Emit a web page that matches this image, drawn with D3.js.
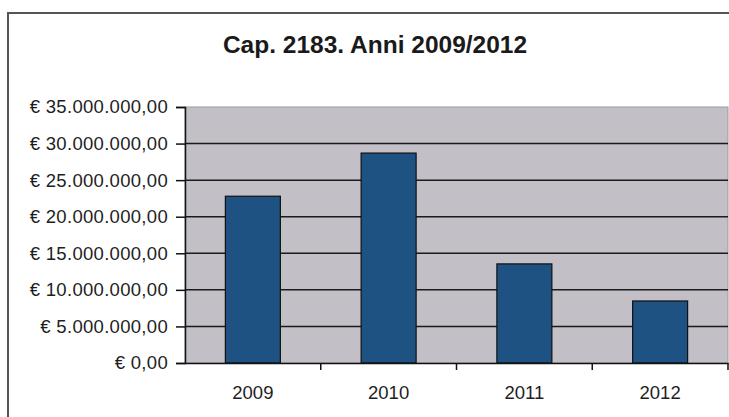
<!DOCTYPE html>
<html>
<head>
<meta charset="utf-8">
<script src="https://cdn.jsdelivr.net/npm/d3@7"></script>
<style>
  html, body { margin: 0; padding: 0; background: #fff; }
  svg { display: block; }
</style>
</head>
<body>
<div id="chart"></div>
<script>
const titleText = "Cap. 2183. Anni 2009/2012";
const categories = ["2009", "2010", "2011", "2012"];
const values = [22800000, 28700000, 13550000, 8480000];
const yTicks = [0, 5000000, 10000000, 15000000, 20000000, 25000000, 30000000, 35000000];

const W = 729, H = 417;
const margin = { left: 185, right: 1, top: 107, bottom: 54 };

const svg = d3.select("#chart").append("svg")
  .attr("width", W).attr("height", H);

// outer frame
svg.append("path")
  .attr("d", `M8,${H + 5} L8,13 L${W + 5},13`)
  .attr("fill", "none").attr("stroke", "#555").attr("stroke-width", 2);

const x = d3.scaleBand().domain(categories)
  .range([margin.left, W - margin.right])
  .paddingInner(0.595).paddingOuter(0.2975);
const xb = d3.scaleBand().domain(categories)
  .range([margin.left, W - margin.right]).padding(0);
const y = d3.scaleLinear().domain([0, 35000000])
  .range([H - margin.bottom, margin.top]);

// plot background
svg.append("rect")
  .attr("x", margin.left).attr("y", y(35000000))
  .attr("width", W - margin.right - margin.left)
  .attr("height", y(0) - y(35000000))
  .attr("fill", "#c2bfc6").attr("stroke", "#9d9aa1").attr("stroke-width", 1);

// gridlines
svg.append("g").selectAll("line")
  .data(yTicks.filter(d => d > 0 && d < 35000000))
  .join("line")
  .attr("x1", margin.left).attr("x2", W - margin.right)
  .attr("y1", d => y(d)).attr("y2", d => y(d))
  .attr("stroke", "#1a1a1a").attr("stroke-width", 1.5);

// bars
svg.append("g").selectAll("rect")
  .data(categories)
  .join("rect")
  .attr("x", d => x(d))
  .attr("width", x.bandwidth())
  .attr("y", (d, i) => y(values[i]))
  .attr("height", (d, i) => y(0) - y(values[i]))
  .attr("fill", "#1e5282")
  .attr("stroke", "#111").attr("stroke-width", 1.2);

const fmt = d => "€ " + d3.format(",.2f")(d).replace(/,/g, "#").replace(/\./g, ",").replace(/#/g, ".");

// y axis
const yAxis = svg.append("g")
  .attr("transform", `translate(${margin.left},0)`)
  .call(d3.axisLeft(y).tickValues(yTicks).tickFormat(fmt).tickSize(9).tickPadding(8));
yAxis.select(".domain").attr("stroke", "#111").attr("stroke-width", 1.5);
yAxis.selectAll(".tick line").attr("stroke", "#111").attr("stroke-width", 1.5);
yAxis.selectAll("text")
  .attr("font-family", "'Liberation Sans', Arial, sans-serif")
  .attr("font-size", 18.5).attr("letter-spacing", 0.3).attr("fill", "#1e1e1e");

// x axis
const xAxis = svg.append("g")
  .attr("transform", `translate(0,${y(0)})`)
  .call(d3.axisBottom(xb).tickSize(0).tickPadding(23));
xAxis.select(".domain").attr("stroke", "#111").attr("stroke-width", 1.5);
xAxis.selectAll("text")
  .attr("font-family", "'Liberation Sans', Arial, sans-serif")
  .attr("font-size", 18.5).attr("fill", "#1e1e1e");
// category separator ticks
xAxis.append("g").selectAll("line")
  .data(categories.slice(1).concat(["end"]))
  .join("line")
  .attr("x1", d => d === "end" ? W - margin.right : xb(d))
  .attr("x2", d => d === "end" ? W - margin.right : xb(d))
  .attr("y1", 0).attr("y2", 7)
  .attr("stroke", "#111").attr("stroke-width", 1.5);

// title
svg.append("text")
  .attr("x", 375).attr("y", 53)
  .attr("text-anchor", "middle")
  .attr("font-family", "'Liberation Sans', Arial, sans-serif")
  .attr("font-weight", "bold").attr("font-size", 24.5)
  .attr("fill", "#1a1a1a")
  .text(titleText);
</script>
</body>
</html>
